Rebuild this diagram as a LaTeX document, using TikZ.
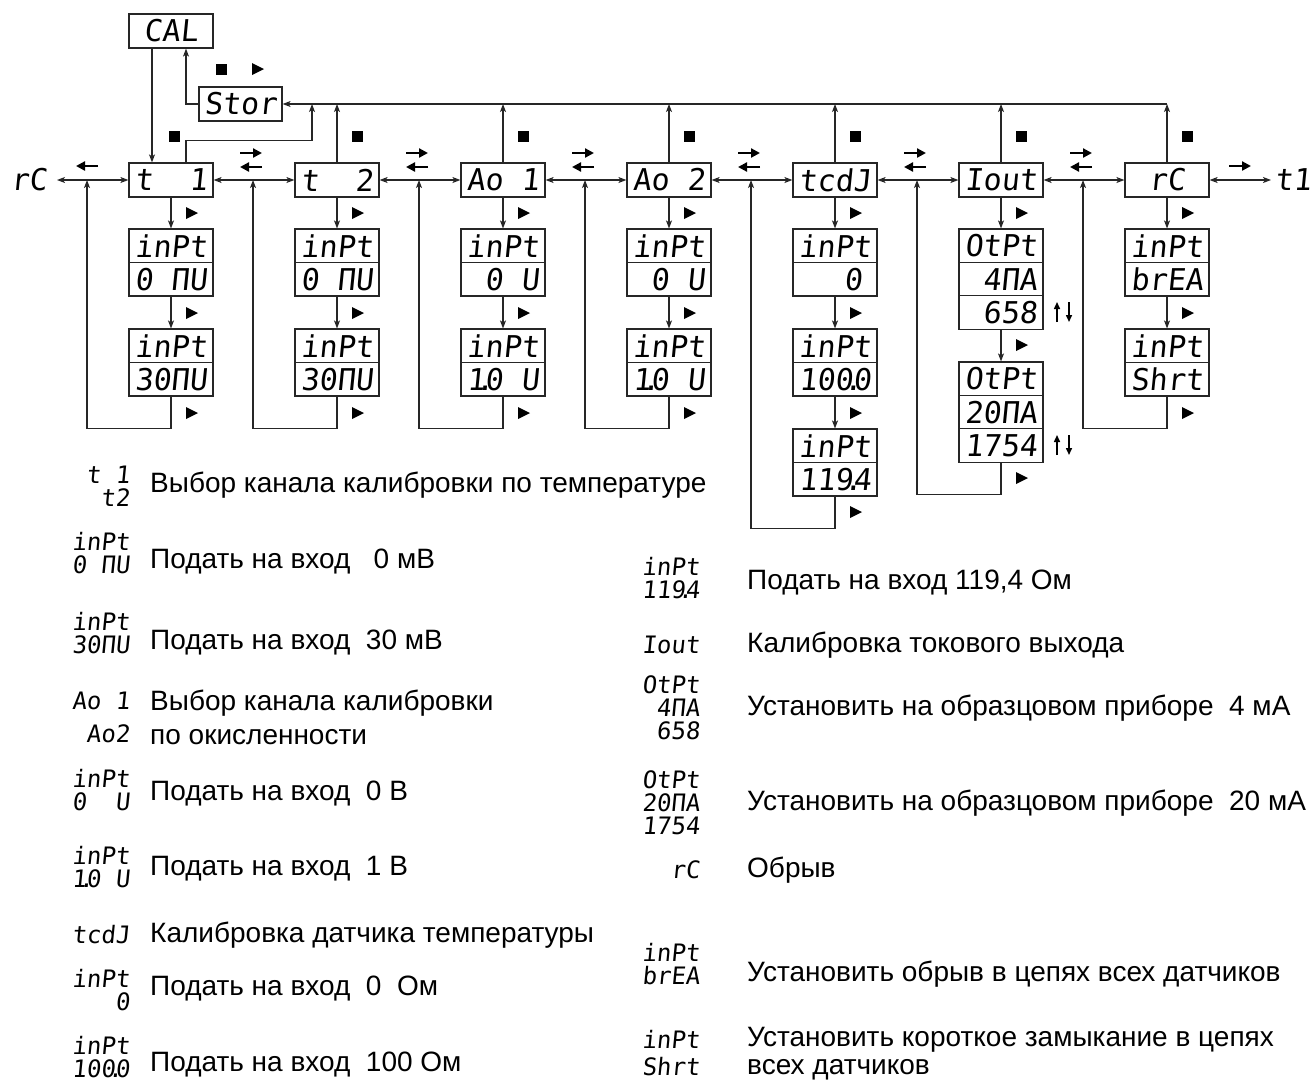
\documentclass[tikz,border=0pt]{standalone}
\usepackage{fontspec}
\setmainfont{Liberation Sans}
\newfontfamily\segf{DejaVu Sans Mono}[FakeSlant=0.1]
\usetikzlibrary{arrows.meta}
\newcommand\sdot{\kern-.3em.\kern-.3em}
\tikzset{
 ln/.style={line width=1.2pt, draw=black!85},
 arr/.style={ln, -{Stealth[length=8pt,width=6pt,inset=2pt]}},
 darr/.style={ln, {Stealth[length=8pt,width=6pt,inset=2pt]}-{Stealth[length=8pt,width=6pt,inset=2pt]}},
 segbox/.style={draw=black!85, line width=1.2pt, minimum width=84pt, minimum height=34pt, inner sep=0pt, font=\segf\fontsize{30}{30}\selectfont},
 rowbox/.style={segbox, minimum height=33.4pt},
 segtxt/.style={inner sep=0pt, font=\segf\fontsize{30}{30}\selectfont},
 lsym/.style={inner sep=0pt, anchor=east, align=right, font=\segf\fontsize{24}{23}\selectfont},
 rsym/.style={lsym},
 ltxt/.style={inner sep=0pt, anchor=west, align=left, font=\fontsize{28}{36}\selectfont},
 sym/.style={line width=2.2pt, -{Triangle[length=9pt,width=9pt]}},
 thinsym/.style={line width=1.5pt, -{Triangle[length=7pt,width=6pt]}},
 pics/stopm/.style={code={\fill (-5.5,-5.5) rectangle (5.5,5.5);}},
 pics/playm/.style={code={\fill (-5,-6) -- (7,0) -- (-5,6) -- cycle;}},
 pics/swapm/.style={code={\draw[sym] (-11,-7) -- (11,-7); \draw[sym] (11,7) -- (-11,7);}},
 pics/leftm/.style={code={\draw[sym] (11,0) -- (-11,0);}},
 pics/rightm/.style={code={\draw[sym] (-11,0) -- (11,0);}},
 pics/updown/.style={code={\draw[thinsym] (-6,10) -- (-6,-10); \draw[thinsym] (6,-10) -- (6,10);}},
}
\begin{document}
\begin{tikzpicture}[x=1pt,y=-1pt]
\useasboundingbox (0,0) rectangle (1314,1088);

% ---------- main row ----------
\node[segbox] (m0) at (171,180) {t~~1};
\node[segbox] (m1) at (337,180) {t~~2};
\node[segbox] (m2) at (503,180) {Ao~1};
\node[segbox] (m3) at (669,180) {Ao~2};
\node[segbox] (m4) at (835,180) {tcdJ};
\node[segbox] (m5) at (1001,180) {Iout};
\node[segbox] (m6) at (1167,180) {rC};
\node[segtxt] (lrc) at (29,180) {rC};
\node[segtxt] (rt1) at (1293,180) {t1};

% ---------- top ----------
\node[segbox] (cal) at (171,31) {CAL~};
\node[segbox, minimum width=83pt] (stor) at (240.5,104) {Stor};

% ---------- sub boxes ----------
% col 0
\node[rowbox] (a1) at (171,245.75) {inPt};
\node[rowbox] (a2) at (171,279.25) {0~ПU};
\node[rowbox] (a3) at (171,345.75) {inPt};
\node[rowbox] (a4) at (171,379.25) {30ПU};
% col 1
\node[rowbox] (b1) at (337,245.75) {inPt};
\node[rowbox] (b2) at (337,279.25) {0~ПU};
\node[rowbox] (b3) at (337,345.75) {inPt};
\node[rowbox] (b4) at (337,379.25) {30ПU};
% col 2
\node[rowbox] (c1) at (503,245.75) {inPt};
\node[rowbox] (c2) at (503,279.25) {~0~U};
\node[rowbox] (c3) at (503,345.75) {inPt};
\node[rowbox] (c4) at (503,379.25) {1\sdot0~U};
% col 3
\node[rowbox] (d1) at (669,245.75) {inPt};
\node[rowbox] (d2) at (669,279.25) {~0~U};
\node[rowbox] (d3) at (669,345.75) {inPt};
\node[rowbox] (d4) at (669,379.25) {1\sdot0~U};
% col 4
\node[rowbox] (e1) at (835,245.75) {inPt};
\node[rowbox] (e2) at (835,279.25) {~~0~};
\node[rowbox] (e3) at (835,345.75) {inPt};
\node[rowbox] (e4) at (835,379.25) {100\sdot0};
\node[rowbox] (e5) at (835,445.75) {inPt};
\node[rowbox] (e6) at (835,479.25) {119\sdot4};
% col 5
\node[rowbox] (f1) at (1001,245.7) {OtPt};
\node[rowbox] (f2) at (1001,279.1) {~4ПA};
\node[rowbox] (f3) at (1001,312.5) {~658};
\node[rowbox] (f4) at (1001,378.7) {OtPt};
\node[rowbox] (f5) at (1001,412.1) {20ПA};
\node[rowbox] (f6) at (1001,445.5) {1754};
% col 6
\node[rowbox] (g1) at (1167,245.75) {inPt};
\node[rowbox] (g2) at (1167,279.25) {brEA};
\node[rowbox] (g3) at (1167,345.75) {inPt};
\node[rowbox] (g4) at (1167,379.25) {Shrt};

% ---------- horizontal connectors ----------
\coordinate (lrcE) at (57,180);
\coordinate (rt1W) at (1271,180);
\draw[darr] (lrcE) -- (m0.west);
\foreach \a/\b in {m0/m1,m1/m2,m2/m3,m3/m4,m4/m5,m5/m6} \draw[darr] (\a.east) -- (\b.west);
\draw[darr] (m6.east) -- (rt1W);

% ---------- vertical connectors ----------
\foreach \t/\s in {m0/a1,a2/a3,m1/b1,b2/b3,m2/c1,c2/c3,m3/d1,d2/d3,m4/e1,e2/e3,e4/e5,m5/f1,f3/f4,m6/g1,g2/g3}
  \draw[arr] (\t.south) -- (\s.north);

% loops back to main line
\coordinate (j0) at (87,180);
\coordinate (j1) at (253,180);
\coordinate (j2) at (419,180);
\coordinate (j3) at (585,180);
\coordinate (j4) at (751,180);
\coordinate (j5) at (917,180);
\coordinate (j6) at (1083,180);
\draw[arr] (a4.south) -- ++(0,32) -| (j0);
\draw[arr] (b4.south) -- ++(0,32) -| (j1);
\draw[arr] (c4.south) -- ++(0,32) -| (j2);
\draw[arr] (d4.south) -- ++(0,32) -| (j3);
\draw[arr] (e6.south) -- ++(0,32) -| (j4);
\draw[arr] (f6.south) -- ++(0,32) -| (j5);
\draw[arr] (g4.south) -- ++(0,32) -| (j6);

% ---------- to Stor / CAL ----------
\foreach \i in {1,...,6} \draw[arr] (m\i.north) -- (m\i.north |- stor.east);
\draw[arr] (m6.north |- stor.east) -- (stor.east);
\coordinate (s0) at (312,104);
\draw[arr] ([xshift=15pt]m0.north) -- ++(0,-22) -| (s0);
\draw[arr] ([xshift=-19pt]cal.south) -- ([xshift=-19pt]m0.north);
\draw[arr] (stor.west) -| ([xshift=15pt]cal.south);

% ---------- key markers ----------
\pic at (221,69) {stopm};
\pic at (257,69) {playm};
\pic at (174,136) {stopm};
\foreach \x in {357,523,689,855,1021,1187} \pic at (\x,136) {stopm};
\foreach \x in {191,357,523,689,855,1021,1187} \pic at (\x,213) {playm};
\foreach \x in {191,357,523,689,855,1187} \pic at (\x,313) {playm};
\foreach \x in {191,357,523,689,1187} \pic at (\x,413) {playm};
\pic at (855,413) {playm};
\pic at (855,512) {playm};
\pic at (1021,345) {playm};
\pic at (1021,478) {playm};
\pic at (87,166) {leftm};
\pic at (1240,166) {rightm};
\foreach \x in {251,417,583,749,915,1081} \pic at (\x,160) {swapm};
\pic at (1063,312) {updown};
\pic at (1063,445) {updown};

% ---------- legend left ----------
\node[lsym] (L1s) at (130,486) {t~1\\t2};
\node[ltxt] (L1t) at (150,485) {Выбор канала калибровки по температуре};
\node[lsym] (L2s) at (130,553) {inPt\\0~ПU};
\node[ltxt] (L2t) at (150,562) {Подать на вход~~~0 мВ};
\node[lsym] (L3s) at (130,633) {inPt\\30ПU};
\node[ltxt] (L3t) at (150,642) {Подать на вход~~30 мВ};
\node[lsym, font=\segf\fontsize{24}{33}\selectfont] (L4s) at (130,717) {Ao~1\\Ao2};
\node[ltxt, font=\fontsize{28}{34}\selectfont] (L4t) at (150,717) {Выбор канала калибровки\\по окисленности};
\node[lsym] (L5s) at (130,790) {inPt\\0~~U};
\node[ltxt] (L5t) at (150,793) {Подать на вход~~0 В};
\node[lsym] (L6s) at (130,867) {inPt\\1\sdot0~U};
\node[ltxt] (L6t) at (150,869) {Подать на вход~~1 В};
\node[lsym] (L7s) at (130,935) {tcdJ};
\node[ltxt] (L7t) at (150,935) {Калибровка датчика температуры};
\node[lsym] (L8s) at (130,990) {inPt\\0};
\node[ltxt] (L8t) at (150,988) {Подать на вход~~0~~Ом};
\node[lsym] (L9s) at (130,1057) {inPt\\100\sdot0};
\node[ltxt] (L9t) at (150,1064) {Подать на вход~~100 Ом};

% ---------- legend right ----------
\node[rsym] (R1s) at (700,578) {inPt\\119\sdot4};
\node[ltxt] (R1t) at (747,583) {Подать на вход 119,4 Ом};
\node[rsym] (R2s) at (700,645) {Iout};
\node[ltxt] (R2t) at (747,645) {Калибровка токового выхода};
\node[rsym] (R3s) at (700,708) {OtPt\\4ПA\\658};
\node[ltxt] (R3t) at (747,708) {Установить на образцовом приборе~~4 мА};
\node[rsym] (R4s) at (700,803) {OtPt\\20ПA\\1754};
\node[ltxt] (R4t) at (747,803) {Установить на образцовом приборе~~20 мА};
\node[rsym] (R5s) at (700,870) {rC};
\node[ltxt] (R5t) at (747,870) {Обрыв};
\node[rsym] (R6s) at (700,964) {inPt\\brEA};
\node[ltxt] (R6t) at (747,974) {Установить обрыв в цепях всех датчиков};
\node[rsym, font=\segf\fontsize{24}{27}\selectfont] (R7s) at (700,1053) {inPt\\Shrt};
\node[ltxt, font=\fontsize{28}{28}\selectfont] (R7t) at (747,1054) {Установить короткое замыкание в цепях\\всех датчиков};
\end{tikzpicture}
\end{document}
